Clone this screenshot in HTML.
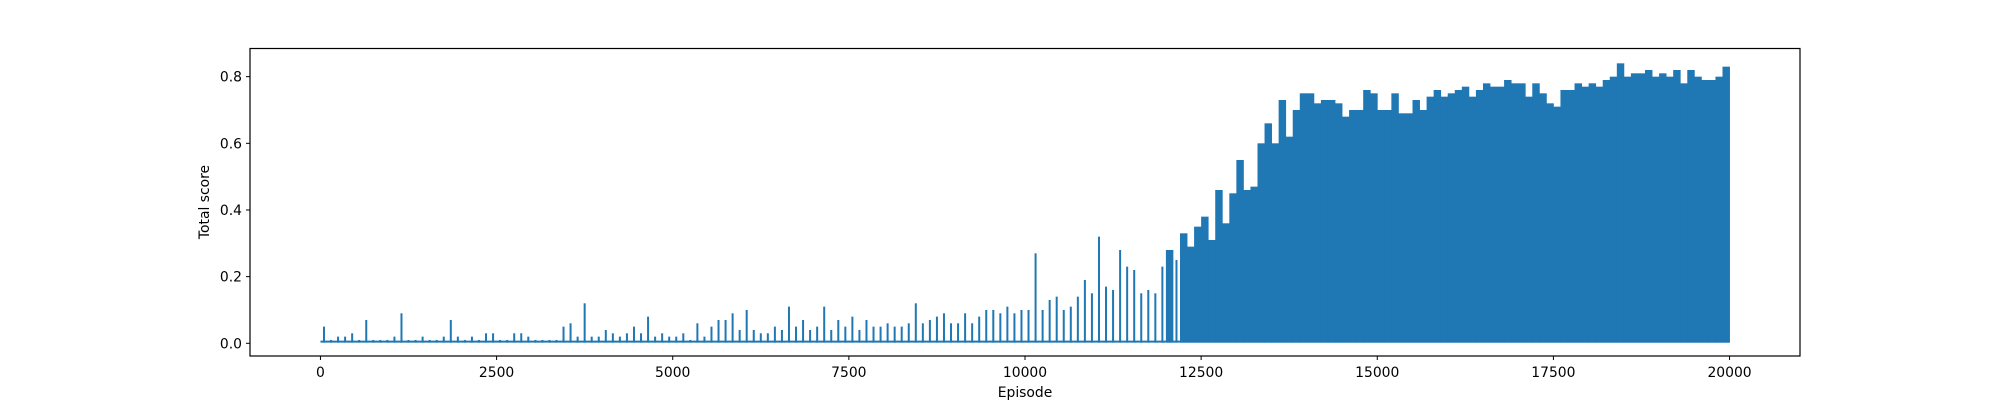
<!DOCTYPE html>
<html><head><meta charset="utf-8"><style>
html,body{margin:0;padding:0;background:#fff;}
svg text{font-family:"DejaVu Sans","Liberation Sans",sans-serif;font-size:13.9px;fill:#000;}
</style></head><body>
<svg id="chart" width="2000" height="400" xmlns="http://www.w3.org/2000/svg">
<g id="marks"></g>
<rect x="250" y="48.5" width="1550" height="307.5" fill="none" stroke="#000" stroke-width="1.2"/>
<g id="xticks"></g>
<g id="yticks"></g>
<text x="1025" y="397" text-anchor="middle">Episode</text>
<text transform="translate(209,202) rotate(-90)" text-anchor="middle">Total score</text>
</svg>
<script>
const binSize = 100;
const binMax = [
0.05,0.01,0.02,0.02,0.03,0.01,0.07,0.01,0.01,0.01,
0.02,0.09,0.01,0.01,0.02,0.01,0.01,0.02,0.07,0.02,
0.01,0.02,0.01,0.03,0.03,0.01,0.01,0.03,0.03,0.02,
0.01,0.01,0.01,0.01,0.05,0.06,0.02,0.12,0.02,0.02,
0.04,0.03,0.02,0.03,0.05,0.03,0.08,0.02,0.03,0.02,
0.02,0.03,0.01,0.06,0.02,0.05,0.07,0.07,0.09,0.04,
0.10,0.04,0.03,0.03,0.05,0.04,0.11,0.05,0.07,0.04,
0.05,0.11,0.04,0.07,0.05,0.08,0.04,0.07,0.05,0.05,
0.06,0.05,0.05,0.06,0.12,0.06,0.07,0.08,0.09,0.06,
0.06,0.09,0.06,0.08,0.10,0.10,0.09,0.11,0.09,0.10,
0.10,0.27,0.10,0.13,0.14,0.10,0.11,0.14,0.19,0.15,
0.32,0.17,0.16,0.28,0.23,0.22,0.15,0.16,0.15,0.23,
0.28,0.25,0.33,0.29,0.35,0.38,0.31,0.46,0.36,0.45,
0.55,0.46,0.47,0.60,0.66,0.60,0.73,0.62,0.70,0.75,
0.75,0.72,0.73,0.73,0.72,0.68,0.70,0.70,0.76,0.75,
0.70,0.70,0.75,0.69,0.69,0.73,0.70,0.74,0.76,0.74,
0.75,0.76,0.77,0.74,0.76,0.78,0.77,0.77,0.79,0.78,
0.78,0.74,0.78,0.75,0.72,0.71,0.76,0.76,0.78,0.77,
0.78,0.77,0.79,0.80,0.84,0.80,0.81,0.81,0.82,0.80,
0.81,0.80,0.82,0.78,0.82,0.80,0.79,0.79,0.80,0.83];
const baseline = 0.005;
const xTicks = [0,2500,5000,7500,10000,12500,15000,17500,20000];
const yTicks = [0.0,0.2,0.4,0.6,0.8];
const yTickLabels = ["0.0","0.2","0.4","0.6","0.8"];

const NS="http://www.w3.org/2000/svg";
const xScale = v => 250 + (v + 1000) / 22000 * 1550;
const yScale = v => 343.3 - v * 333.3;

const marks=document.getElementById('marks');
const base=document.createElementNS(NS,'line');


base.setAttribute('x1',xScale(0));base.setAttribute('x2',xScale(20000));
base.setAttribute('y1',yScale(baseline));base.setAttribute('y2',yScale(baseline));
base.setAttribute('stroke','#1f77b4');base.setAttribute('stroke-width','2');
marks.appendChild(base);
binMax.forEach((v,i)=>{
  const x0=xScale(i*binSize), x1=xScale((i+1)*binSize);
  const dense = v > 0.25 && i >= 120;
  const r=document.createElementNS(NS,'rect');
  
  
  const w = dense ? (x1-x0+0.4) : 2;
  const x = dense ? x0 : (x0+x1)/2-1;
  r.setAttribute('x',x);r.setAttribute('width',w);
  r.setAttribute('y',yScale(v));r.setAttribute('height',yScale(baseline)-yScale(v)+1);
  r.setAttribute('fill','#1f77b4');
  marks.appendChild(r);
});
const xg=document.getElementById('xticks');
xTicks.forEach(t=>{
  const x=xScale(t);
  const l=document.createElementNS(NS,'line');
  
  
  l.setAttribute('x1',x);l.setAttribute('x2',x);l.setAttribute('y1',356);l.setAttribute('y2',360);l.setAttribute('stroke','#000');
  xg.appendChild(l);
  const tx=document.createElementNS(NS,'text');
  
  
  tx.setAttribute('x',x);tx.setAttribute('y',377);tx.setAttribute('text-anchor','middle');
  tx.textContent=t;
  xg.appendChild(tx);
});
const yg=document.getElementById('yticks');
yTicks.forEach((t,i)=>{
  const y=yScale(t);
  const l=document.createElementNS(NS,'line');
  
  
  l.setAttribute('x1',246);l.setAttribute('x2',250);l.setAttribute('y1',y);l.setAttribute('y2',y);l.setAttribute('stroke','#000');
  yg.appendChild(l);
  const tx=document.createElementNS(NS,'text');
  
  
  tx.setAttribute('x',242);tx.setAttribute('y',y+5);tx.setAttribute('text-anchor','end');
  tx.textContent=yTickLabels[i];
  yg.appendChild(tx);
});
</script>
</body></html>
